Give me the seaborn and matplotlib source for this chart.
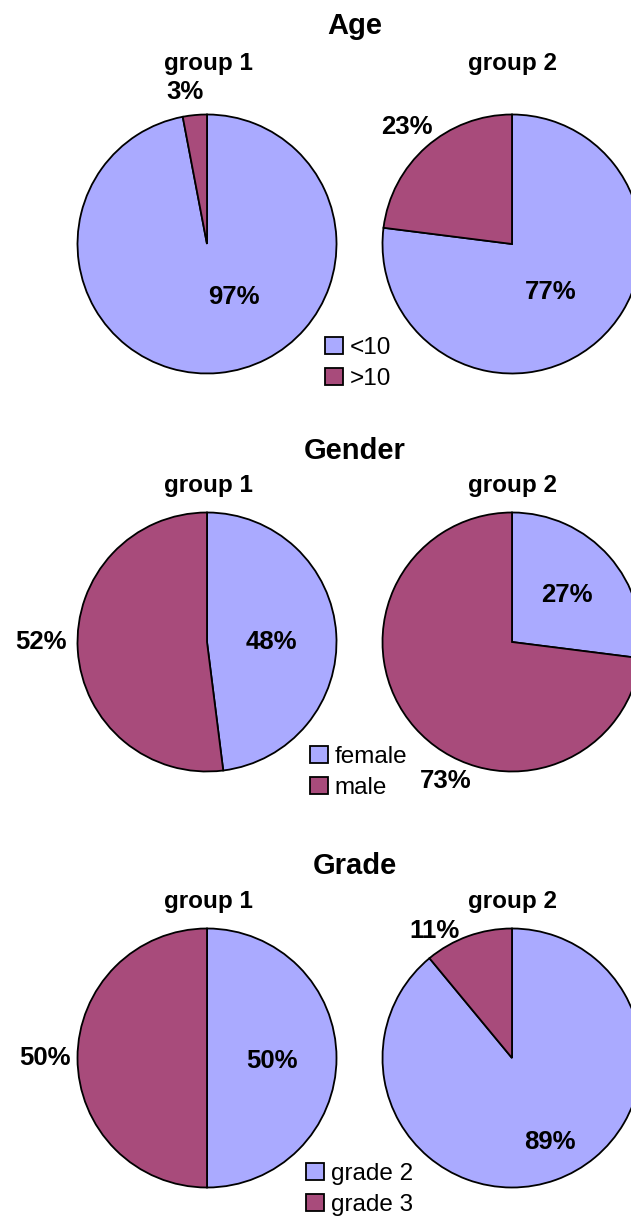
import matplotlib
matplotlib.use("Agg")
import matplotlib.pyplot as plt
import seaborn as sns

### ---------------- DATA ---------------- ###
age_labels = ["<10", ">10"]
age_group1 = [97, 3]
age_group2 = [77, 23]

gender_labels = ["female", "male"]
gender_group1 = [48, 52]
gender_group2 = [27, 73]

grade_labels = ["grade 2", "grade 3"]
grade_group1 = [50, 50]
grade_group2 = [89, 11]

group_names = ["group 1", "group 2"]
colors = ["#AAAAFF", "#A84B7B"]

### ---------------- LAYOUT (pixels) ---------------- ###
W, H = 631, 1218
sns.set_theme(style="white")
plt.rcParams["font.family"] = ["Liberation Sans", "DejaVu Sans"]
plt.rcParams["text.color"] = "black"

fig = plt.figure(figsize=(W / 100, H / 100), dpi=100)


def fx(x):
    return x / W


def fy(y):
    return 1 - y / H


def draw_pie(values, cx, cy, r, label_pos):
    """Draws one pie centred at pixel (cx, cy) with radius r."""
    ax = fig.add_axes([fx(cx - r), fy(cy + r), 2 * r / W, 2 * r / H])
    wedges, _ = ax.pie(values, colors=colors, startangle=90, counterclock=False,
                       wedgeprops=dict(edgecolor="black", linewidth=1.3))
    ax.set_xlim(-1, 1)
    ax.set_ylim(-1, 1)
    ax.axis("off")
    # percent labels, offsets in radius units
    for v, (dx, dy) in zip(values, label_pos):
        ax.text(dx, dy, f"{v}%", ha="center", va="center", fontsize=18.5,
                fontweight="bold", color="black", clip_on=False)
    return wedges


panels = [
    # title, title baseline y, group baseline y, pie centre y, data, legend labels, legend pos, label positions
    ("Age", 34, 70, 244, (age_group1, age_group2), age_labels, (325, 337),
     ([(0.21, -0.41), (-0.17, 1.17)], [(0.30, -0.37), (-0.815, 0.90)])),
    ("Gender", 459, 492, 642, (gender_group1, gender_group2), gender_labels, (310, 746),
     ([(0.50, 0.0), (-1.28, 0.0)], [(0.425, 0.36), (-0.51, -1.07)])),
    ("Grade", 874, 908, 1058, (grade_group1, grade_group2), grade_labels, (306, 1163),
     ([(0.50, -0.02), (-1.25, 0.0)], [(0.29, -0.65), (-0.60, 0.98)])),
]

for title, ty, gy, cy, (g1, g2), leg_labels, (lx, ly), (pos1, pos2) in panels:
    fig.text(fx(355), fy(ty), title, ha="center", va="baseline", fontsize=21, fontweight="bold")
    fig.text(fx(208), fy(gy), group_names[0], ha="center", va="baseline", fontsize=17.5, fontweight="bold")
    fig.text(fx(512), fy(gy), group_names[1], ha="center", va="baseline", fontsize=17.5, fontweight="bold")
    wedges = draw_pie(g1, 207, cy, 129.5, pos1)
    draw_pie(g2, 512, cy, 129.5, pos2)
    fig.legend(wedges, leg_labels, loc="upper left", bbox_to_anchor=(fx(lx), fy(ly)),
               frameon=False, borderpad=0, borderaxespad=0, fontsize=17.5,
               handlelength=0.72, handleheight=0.72, handletextpad=0.3, labelspacing=0.37)

fig.savefig("out.png", dpi=100)
